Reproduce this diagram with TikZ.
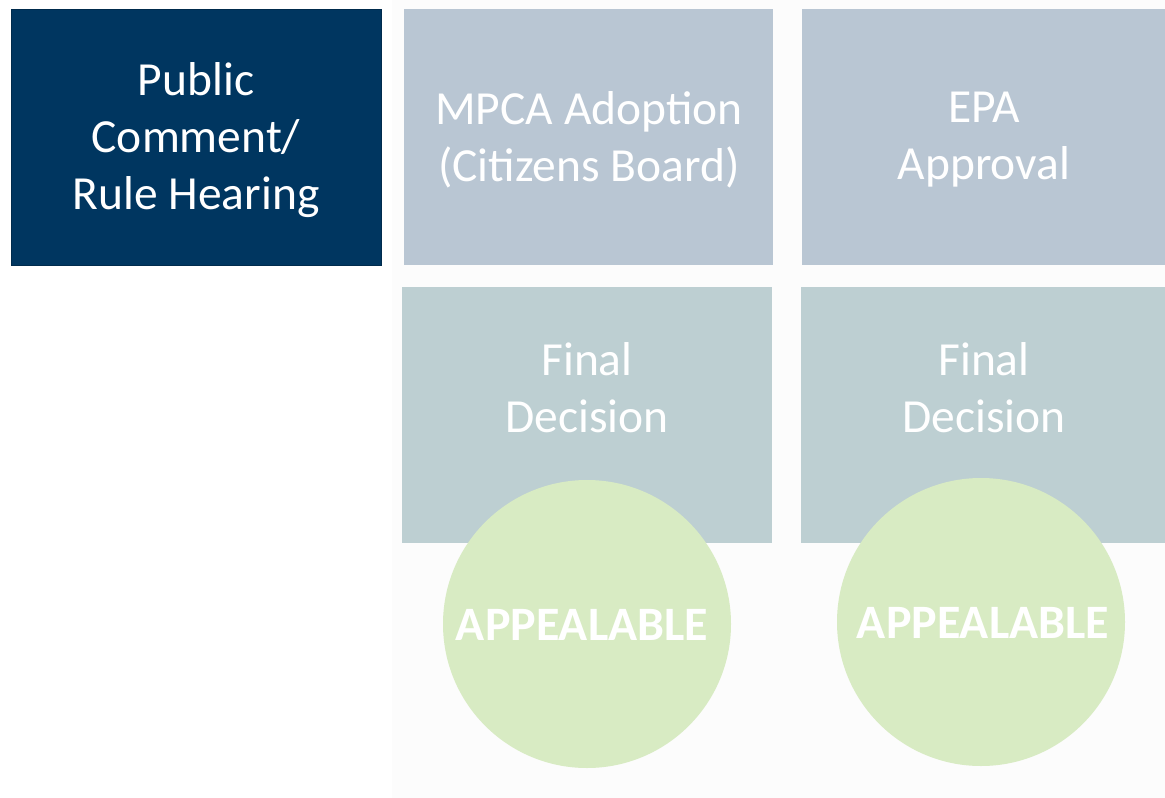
\documentclass[tikz,border=0pt]{standalone}
\usepackage{fontspec}
\setmainfont{Carlito}
\definecolor{navy}{HTML}{003660}
\definecolor{topbox}{HTML}{B9C6D3}
\definecolor{midbox}{HTML}{BDCFD2}
\definecolor{appeal}{HTML}{D8EBC3}
\definecolor{faint}{HTML}{FCFCFC}
\tikzset{
  stepbox/.style={rectangle, inner sep=0pt, minimum width=370pt, minimum height=256pt},
  boxtext/.style={text=white, align=center, font=\fontsize{47.5}{57}\selectfont},
  appealcirc/.style={circle, fill=appeal, inner sep=0pt, minimum size=288pt},
  appealtext/.style={text=white, font=\fontsize{48}{57}\selectfont\bfseries}
}
\begin{document}
\begin{tikzpicture}[x=1pt,y=-1pt]
\useasboundingbox (0,0) rectangle (1165,798);
\fill[faint] (392,0) rectangle (1165,798);
% top row
\node[stepbox, fill=navy, draw=navy!80!black, line width=0.8pt] (pc) at (196,137) {};
\node[stepbox, fill=topbox, minimum width=369pt] (mpca) at (588.5,137) {};
\node[stepbox, fill=topbox] (epa) at (987,137) {};
\node[boxtext] (pct) at (196,140) {Public\\Comment/\\Rule Hearing};
\node[boxtext] (mpcat) at (589,140) {MPCA Adoption\\(Citizens Board)};
\node[boxtext] (epat) at (984,140) {EPA\\Approval};
% second row
\node[stepbox, fill=midbox] (fd1) at (587,415) {};
\node[stepbox, fill=midbox] (fd2) at (986,415) {};
\node[boxtext] (fd1t) at (587,388) {Final\\Decision};
\node[boxtext] (fd2t) at (984,388) {Final\\Decision};
% circles
\node[appealcirc] (ap1) at (587,624) {};
\node[appealcirc] (ap2) at (981,622) {};
\node[appealtext] (ap1t) at (582,625) {APPEALABLE};
\node[appealtext] (ap2t) at (983,623) {APPEALABLE};
\end{tikzpicture}
\end{document}
